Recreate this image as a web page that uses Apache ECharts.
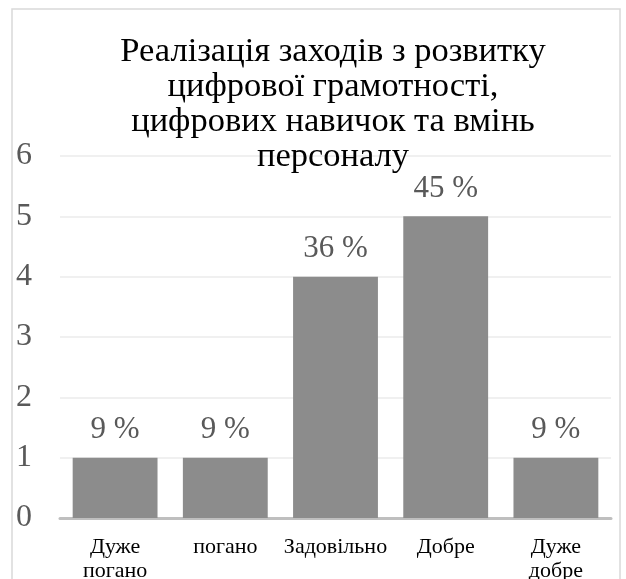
<!DOCTYPE html>
<html>
<head>
<meta charset="utf-8">
<script src="https://cdn.jsdelivr.net/npm/echarts@6/dist/echarts.min.js"></script>
<style>html,body{margin:0;padding:0;background:#fff}#c{width:626px;height:579px}</style>
</head>
<body>
<div id="c"></div>
<script>
const titleText = "Реалізація заходів з розвитку\nцифрової грамотності,\nцифрових навичок та вмінь\nперсоналу";
const categories = ["Дуже\nпогано", "погано", "Задовільно", "Добре", "Дуже\nдобре"];
const values = [1, 1, 4, 5, 1];
const percentLabels = ["9 %", "9 %", "36 %", "45 %", "9 %"];
const yMin = 0, yMax = 6, yInterval = 1;

const serif = "'Liberation Serif', 'DejaVu Serif', serif";
const chart = echarts.init(document.getElementById('c'), null, {renderer: 'canvas'});
chart.setOption({
  animation: false,
  backgroundColor: '#ffffff',
  graphic: [{
    type: 'rect', z: -10,
    shape: {x: 12, y: 9, width: 608, height: 600},
    style: {fill: 'none', stroke: '#d9d9d9', lineWidth: 1.5}
  }],
  title: {
    text: titleText,
    left: 333, top: 34, textAlign: 'center', padding: 0,
    textStyle: {fontFamily: serif, fontSize: 34.5, fontWeight: 'normal', color: '#000000', lineHeight: 35}
  },
  grid: {left: 60, right: 15, top: 156, bottom: 61, containLabel: false, outerBoundsMode: 'none'},
  xAxis: {
    type: 'category', data: categories,
    axisLine: {lineStyle: {color: '#bfbfbf', width: 3}},
    axisTick: {show: false},
    axisLabel: {fontFamily: serif, fontSize: 22, color: '#000000', lineHeight: 24, margin: 17, interval: 0}
  },
  yAxis: {
    type: 'value', min: yMin, max: yMax, interval: yInterval,
    axisLine: {show: false}, axisTick: {show: false},
    splitLine: {lineStyle: {color: '#ebebeb', width: 1.5}},
    axisLabel: {fontFamily: serif, fontSize: 32, color: '#595959', align: 'left', margin: 44}
  },
  series: [{
    type: 'bar', data: values, barWidth: '77%',
    itemStyle: {color: '#8c8c8c'},
    label: {
      show: true, position: 'top', distance: 12,
      fontFamily: serif, fontSize: 31, color: '#595959',
      formatter: p => percentLabels[p.dataIndex]
    }
  }]
});
</script>
</body>
</html>
